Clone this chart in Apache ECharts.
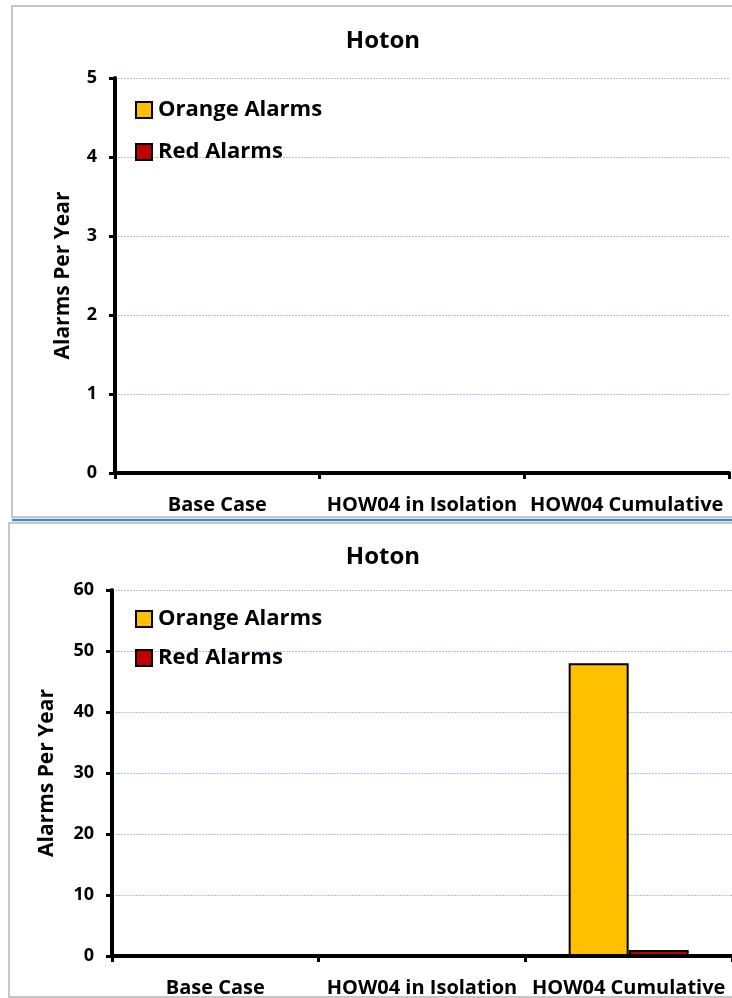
<!DOCTYPE html>
<html>
<head>
<meta charset="utf-8">
<script src="https://cdn.jsdelivr.net/npm/echarts@6/dist/echarts.min.js"></script>
<style>
  html, body { margin: 0; padding: 0; background: #fff; }
  #chart { width: 732px; height: 998px; }
</style>
</head>
<body>
<div id="chart"></div>
<script>
// Scenario categories shared by both panels
const categories = ['Base Case', 'HOW04 in Isolation', 'HOW04 Cumulative'];
const seriesNames = ['Orange Alarms', 'Red Alarms'];

// Upper panel: alarms per year (no alarms in any scenario)
const upperOrange = [0, 0, 0];
const upperRed = [0, 0, 0];
const upperTicks = { min: 0, max: 5, interval: 1 };

// Lower panel: alarms per year
const lowerOrange = [0, 0, 48];
const lowerRed = [0, 0, 1];
const lowerTicks = { min: 0, max: 60, interval: 10 };

const panelTitle = 'Hoton';
const axisTitle = 'Alarms Per Year';

const FONT = '"Open Sans", "Liberation Sans", sans-serif';
const ORANGE = '#ffc000';
const RED = '#c00000';

const chart = echarts.init(document.getElementById('chart'), null, { renderer: 'canvas' });

function valueAxis(gridIndex, ticks, nameGap) {
  return {
    type: 'value',
    gridIndex,
    min: ticks.min,
    max: ticks.max,
    interval: ticks.interval,
    name: axisTitle,
    nameLocation: 'middle',
    nameGap,
    nameTextStyle: { fontFamily: FONT, fontWeight: 'bold', fontSize: 21, color: '#000' },
    axisLine: { show: true, lineStyle: { color: '#000', width: 4 } },
    axisTick: { show: true, length: 6, lineStyle: { color: '#000', width: 3 } },
    axisLabel: { margin: 18, fontFamily: FONT, fontWeight: 'bold', fontSize: 18, color: '#000' },
    splitLine: { show: true, lineStyle: { color: '#a8c4ea', width: 1, type: [2, 1] } }
  };
}

function categoryAxis(gridIndex) {
  return {
    type: 'category',
    gridIndex,
    data: categories,
    axisLine: { show: true, lineStyle: { color: '#000', width: 4 } },
    axisTick: { show: true, length: 6, lineStyle: { color: '#000', width: 3 } },
    axisLabel: { margin: 22, fontFamily: FONT, fontWeight: 'bold', fontSize: 20, color: '#000', interval: 0 }
  };
}

function barSeries(name, color, data, idx) {
  return {
    name,
    type: 'bar',
    xAxisIndex: idx,
    yAxisIndex: idx,
    data,
    barWidth: 60,
    barGap: '0%',
    itemStyle: { color, borderColor: '#000', borderWidth: 2 }
  };
}

function legendFor(top, gap) {
  return {
    orient: 'vertical',
    left: 130,
    top,
    itemGap: gap,
    itemWidth: 16,
    itemHeight: 16,
    icon: 'rect',
    data: seriesNames,
    textStyle: { fontFamily: FONT, fontWeight: 'bold', fontSize: 22, color: '#000', padding: [0, 0, 0, 1] },
    itemStyle: { borderColor: '#000', borderWidth: 2 }
  };
}

chart.setOption({
  animation: false,
  backgroundColor: '#fff',
  title: [
    { text: panelTitle, left: 378, top: 24, textAlign: 'center',
      textStyle: { fontFamily: FONT, fontWeight: 'bold', fontSize: 24, color: '#000' } },
    { text: panelTitle, left: 378, top: 540, textAlign: 'center',
      textStyle: { fontFamily: FONT, fontWeight: 'bold', fontSize: 24, color: '#000' } }
  ],
  legend: [legendFor(94, 20), legendFor(603, 17)],
  grid: [
    { left: 115, top: 78, width: 614, height: 395 },
    { left: 112, top: 590, width: 623, height: 369 }
  ],
  xAxis: [categoryAxis(0), categoryAxis(1)],
  yAxis: [valueAxis(0, upperTicks, 41), valueAxis(1, lowerTicks, 54)],
  series: [
    barSeries(seriesNames[0], ORANGE, upperOrange, 0),
    barSeries(seriesNames[1], RED, upperRed, 0),
    barSeries(seriesNames[0], ORANGE, lowerOrange, 1),
    barSeries(seriesNames[1], RED, lowerRed, 1)
  ],
  graphic: [
    // panel frames and the divider between them
    { type: 'rect', silent: true, z: -1,
      shape: { x: 12, y: 6, width: 730, height: 511 },
      style: { fill: null, stroke: '#b4b4b4', lineWidth: 1.5 } },
    { type: 'line', silent: true,
      shape: { x1: 12, y1: 520, x2: 732, y2: 520 },
      style: { stroke: '#3c8fd0', lineWidth: 2.5 } },
    { type: 'rect', silent: true, z: -1,
      shape: { x: 9, y: 523, width: 730, height: 474 },
      style: { fill: null, stroke: '#b4b4b4', lineWidth: 1.5 } }
  ]
});
</script>
</body>
</html>
